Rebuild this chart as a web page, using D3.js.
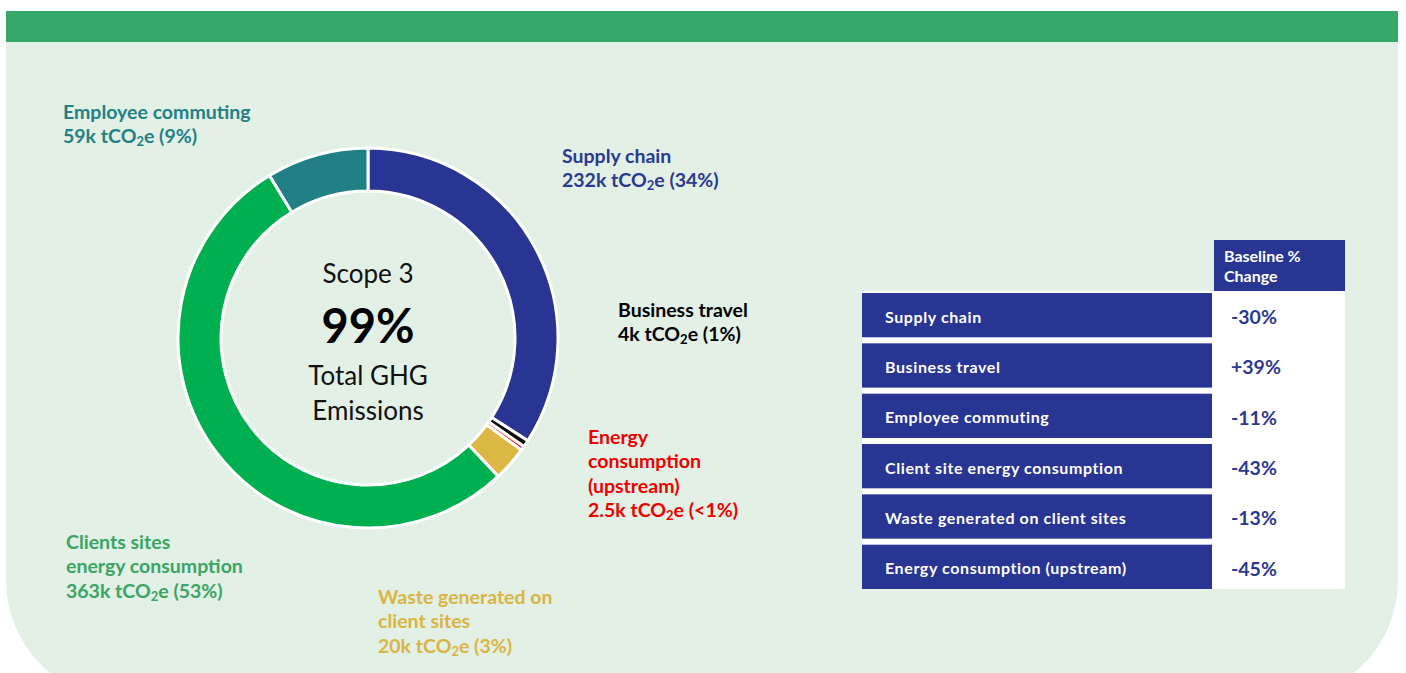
<!DOCTYPE html>
<html>
<head>
<meta charset="utf-8">
<script src="https://cdn.jsdelivr.net/npm/d3@7"></script>
<style>
  body { margin: 0; background: #fff; }
  svg { display: block; font-family: Lato, "Open Sans", sans-serif; }
</style>
</head>
<body>
<svg width="1406" height="673"></svg>
<script>
// **** data ****
var categories = ["Supply chain", "Business travel", "Energy consumption (upstream)",
                  "Waste generated on client sites", "Clients sites energy consumption", "Employee commuting"];
var emissions = [232, 4, 2.5, 20, 363, 59];          // k tCO2e
var shares = ["34%", "1%", "<1%", "3%", "53%", "9%"];
var amounts = ["232k", "4k", "2.5k", "20k", "363k", "59k"];
var sliceColors = ["#283593", "#111111", "#e02020", "#dbb843", "#00b050", "#218085"];
var labelColors = ["#2b3990", "#000000", "#ee0000", "#dbb543", "#3aa564", "#238085"];
var labelLines = [["Supply chain"], ["Business travel"], ["Energy", "consumption", "(upstream)"],
                  ["Waste generated on", "client sites"], ["Clients sites", "energy consumption"], ["Employee commuting"]];
var labelPos = [[562, 156], [618, 310], [588, 437], [378, 597], [66, 542], [63, 112]];

var tableRows = ["Supply chain", "Business travel", "Employee commuting",
                 "Client site energy consumption", "Waste generated on client sites", "Energy consumption (upstream)"];
var baselineChange = ["-30%", "+39%", "-11%", "-43%", "-13%", "-45%"];

var svg = d3.select('svg');

// **** background panel ****
var R = 120, yb = 700, xl = 6, xr = 1398;
svg.append('path')
    .attr('d', 'M' + xl + ',42 H' + xr + ' V' + (yb - R) +
        ' A' + R + ',' + R + ' 0 0 1 ' + (xr - R) + ',' + yb +
        ' H' + (xl + R) +
        ' A' + R + ',' + R + ' 0 0 1 ' + xl + ',' + (yb - R) + ' Z')
    .attr('fill', '#e2f0e6');

svg.append('rect')
    .attr('x', 6).attr('y', 11).attr('width', 1392).attr('height', 31)
    .attr('fill', '#35a86a');

// **** donut ****
var cx = 368, cy = 338;
var pie = d3.pie().sort(null).value(d => d);
var arc = d3.arc().innerRadius(147).outerRadius(190);

var donut = svg.append('g').attr('transform', 'translate(' + cx + ',' + cy + ')');
donut.selectAll('path')
    .data(pie(emissions))
    .enter().append('path')
    .attr('d', arc)
    .attr('fill', (d, i) => sliceColors[i])
    .attr('stroke', '#fff')
    .attr('stroke-width', 3)
    .attr('stroke-linejoin', 'miter');

// centre text
donut.append('text').text('Scope 3')
    .attr('text-anchor', 'middle').attr('y', -55)
    .style('font-size', '26px').attr('fill', '#111');
donut.append('text').text('99%')
    .attr('text-anchor', 'middle').attr('y', 5)
    .style('font-size', '47px').style('font-weight', 'bold').attr('fill', '#000');
donut.append('text').text('Total GHG')
    .attr('text-anchor', 'middle').attr('y', 47)
    .style('font-size', '26px').attr('fill', '#111');
donut.append('text').text('Emissions')
    .attr('text-anchor', 'middle').attr('y', 82)
    .style('font-size', '26px').attr('fill', '#111');

// **** slice labels ****
categories.forEach(function(c, i) {
    var g = svg.append('g')
        .attr('transform', 'translate(' + labelPos[i][0] + ',' + labelPos[i][1] + ')')
        .attr('fill', labelColors[i])
        .style('font-size', '19.5px').style('font-weight', 'bold');
    var lines = labelLines[i];
    lines.forEach(function(l, j) {
        g.append('text').text(l).attr('y', j * 24.5).attr('dy', '0.35em');
    });
    var t = g.append('text').attr('y', lines.length * 24.5).attr('dy', '0.35em');
    t.append('tspan').text(amounts[i] + ' tCO');
    t.append('tspan').text('2').style('font-size', '13px').attr('dy', 3);
    t.append('tspan').text('e (' + shares[i] + ')').attr('dy', -3);
});

// **** table ****
var rowY = d3.scaleBand().domain(tableRows).range([293, 589]).paddingInner(0.12).paddingOuter(0);

svg.append('rect')
    .attr('x', 862).attr('y', 291).attr('width', 483).attr('height', 298)
    .attr('fill', '#fff');
svg.append('rect')
    .attr('x', 1214).attr('y', 240).attr('width', 131).attr('height', 51)
    .attr('fill', '#283593');
svg.append('text').attr('x', 1224).attr('y', 262)
    .attr('fill', '#fff').style('font-size', '16px').style('font-weight', 'bold')
    .text('Baseline %');
svg.append('text').attr('x', 1224).attr('y', 282)
    .attr('fill', '#fff').style('font-size', '16px').style('font-weight', 'bold')
    .text('Change');

var rows = svg.selectAll('.row').data(tableRows).enter().append('g')
    .attr('class', 'row')
    .attr('transform', d => 'translate(0,' + rowY(d) + ')');
rows.append('rect')
    .attr('x', 862).attr('width', 350).attr('height', rowY.bandwidth())
    .attr('fill', '#283593');
rows.append('text')
    .attr('x', 885).attr('y', rowY.bandwidth() / 2 + 2).attr('dy', '0.35em')
    .attr('fill', '#fff').style('font-size', '16px').style('font-weight', 'bold')
    .style('letter-spacing', '0.6px')
    .text(d => d);
rows.append('text')
    .attr('x', 1231).attr('y', rowY.bandwidth() / 2 + 2).attr('dy', '0.35em')
    .attr('fill', '#2b3990').style('font-size', '19.5px').style('font-weight', 'bold')
    .text((d, i) => baselineChange[i]);
</script>
</body>
</html>
